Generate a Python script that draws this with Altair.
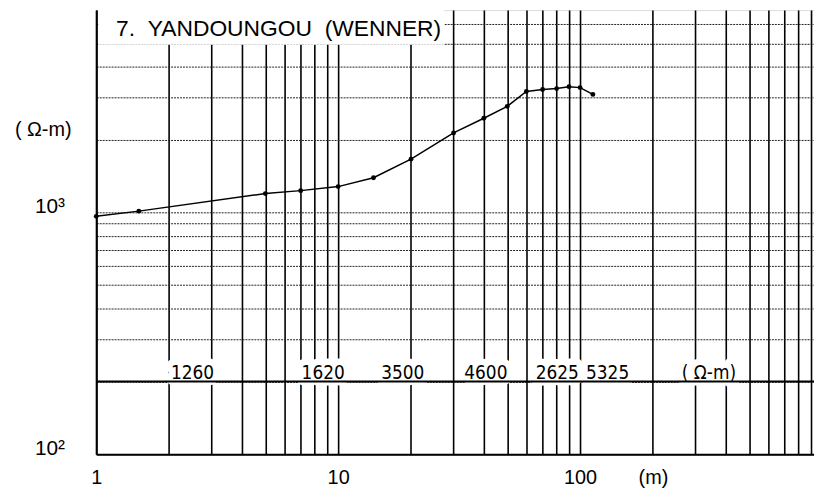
import altair as alt
import pandas as pd

# Apparent resistivity curve (Wenner)
spacing_m = [1, 1.5, 5, 7, 10, 14, 20, 30, 40, 50, 60, 70, 80, 90, 100, 113]
rho_app = [963, 1012, 1196, 1230, 1278, 1390, 1660, 2130, 2450, 2745, 3160, 3220, 3250, 3310, 3280, 3075]

# Interpreted layer resistivities written along the 200 line
layer_labels = ["1260", "1620", "3500", "4600", "2625", "5325", "(\u00a0Ω-m)"]
layer_label_x = [2.5, 8.67, 18.5, 40.8, 80.5, 130, 341]
label_level = 200

x_grid = [m * 10 ** k for k in range(3) for m in range(1, 10)]
y_grid = [m * 100 for m in range(1, 10)] + [m * 1000 for m in range(1, 7)]

curve = pd.DataFrame({"a": spacing_m, "rho": rho_app})
labels = pd.DataFrame({"label": layer_labels, "x": layer_label_x, "y": [label_level] * len(layer_labels)})

FONT = "Liberation Sans"
NARROW = "DejaVu Sans Condensed"

xscale = alt.Scale(type="log", domain=[1, 927], nice=False)
yscale = alt.Scale(type="log", domain=[100, 6860], nice=False)

xaxis = alt.Axis(
    values=x_grid, grid=True, gridColor="black", gridWidth=1.6, gridOpacity=1,
    ticks=False, domainColor="black", domainWidth=2,
    labelExpr="datum.value == 1 ? '1' : datum.value == 10 ? '10' : datum.value == 100 ? '100' : datum.value == 200 ? '(m)' : ''",
    labelFont=FONT, labelFontSize=20, labelColor="black", labelPadding=30,
    labelBaseline="alphabetic", labelFlush=False, labelOverlap=False, title=None,
)
yaxis = alt.Axis(
    values=y_grid, grid=True, gridColor="#222", gridWidth=1, gridDash=[2, 1], gridOpacity=1,
    ticks=False, domainColor="black", domainWidth=2,
    labelExpr="datum.value == 1000 ? '10³' : datum.value == 100 ? '10²' : ''",
    labelFont=FONT, labelFontSize=21, labelColor="black", labelPadding=32,
    labelBaseline="alphabetic", labelOverlap=False,
    title="(\u00a0Ω-m)", titleAngle=0, titleFont=FONT, titleFontSize=20, titleFontWeight="normal",
    titleColor="black", titleX=-54, titleY=120, titleAlign="center", titleBaseline="middle",
)

base = alt.Chart(curve)

line = base.mark_line(color="black", strokeWidth=1.5).encode(
    x=alt.X("a:Q", scale=xscale, axis=xaxis),
    y=alt.Y("rho:Q", scale=yscale, axis=yaxis),
)
points = base.mark_circle(color="black", size=24, opacity=1).encode(x="a:Q", y="rho:Q")

title_box = alt.Chart(pd.DataFrame({"t": [0]})).mark_rect(color="white").encode(
    x=alt.value(2), x2=alt.value(351), y=alt.value(0), y2=alt.value(35)
)
title_text = alt.Chart(pd.DataFrame({"t": ["7.\u00a0\u00a0YANDOUNGOU\u00a0\u00a0(WENNER)"]})).mark_text(
    font=FONT, fontSize=23, align="left", baseline="alphabetic", color="black"
).encode(x=alt.value(20), y=alt.value(26), text="t:N")

lab = alt.Chart(labels)
halo = lab.mark_text(
    font=NARROW, fontSize=19, align="center", baseline="alphabetic", dy=-2,
    color="white", stroke="white", strokeWidth=13, strokeJoin="round",
).encode(x="x:Q", y="y:Q", text="label:N")
rule = alt.Chart(pd.DataFrame({"y": [label_level]})).mark_rule(color="black", strokeWidth=2).encode(y="y:Q")
label_text = lab.mark_text(
    font=NARROW, fontSize=19, align="center", baseline="alphabetic", dy=-2, color="black",
).encode(x="x:Q", y="y:Q", text="label:N")

chart = alt.layer(
    line, title_box, title_text, halo, rule, label_text, points
).properties(
    width=724, height=448,
    autosize=alt.AutoSizeParams(type="none"),
    padding={"left": 89, "top": 0, "right": 0, "bottom": 40},
).configure_view(stroke=None).configure(background="white")

chart.save("out.html", embed_options={"renderer": "svg", "actions": False})
